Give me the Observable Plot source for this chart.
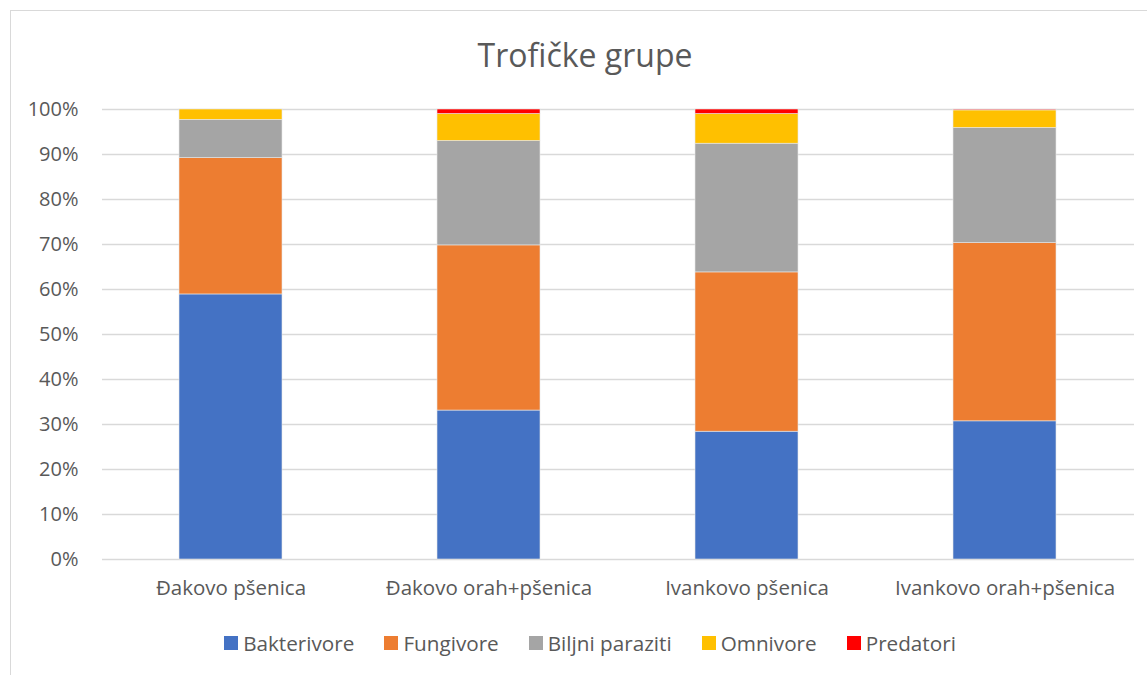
<!DOCTYPE html>
<html>
<head>
<meta charset="utf-8">
<script src="https://cdn.jsdelivr.net/npm/d3@7"></script>
<script src="https://cdn.jsdelivr.net/npm/@observablehq/plot@0.6"></script>
<style>
  html, body { margin: 0; padding: 0; background: #fff; }
  body { width: 1147px; height: 675px; position: relative; overflow: hidden; font-family: "Open Sans", sans-serif; }
  #frame { position: absolute; left: 10px; top: 10px; width: 1200px; height: 700px; border-left: 1px solid #d9d9d9; border-top: 1px solid #d9d9d9; }
  #title { position: absolute; left: 0; top: 0; width: 1170px; height: 95px; text-align: center; font-size: 32px; color: #595959; line-height: 110px; }
  #chart { position: absolute; left: 0; top: 95px; }
  #legend { position: absolute; left: 0; top: 615px; width: 1180px; height: 56px; display: flex; justify-content: center; align-items: center; gap: 30px; font-size: 20.7px; color: #595959; }
  .item { display: flex; align-items: center; gap: 5px; }
  .sw { width: 14px; height: 14px; display: inline-block; }
</style>
</head>
<body>
<div id="frame"></div>
<div id="title">Trofičke grupe</div>
<div id="chart"></div>
<div id="legend"></div>
<script>
const categories = ["Đakovo pšenica", "Đakovo orah+pšenica", "Ivankovo pšenica", "Ivankovo orah+pšenica"];
const series = ["Bakterivore", "Fungivore", "Biljni paraziti", "Omnivore", "Predatori"];
const colors = ["#4472C4", "#ED7D31", "#A5A5A5", "#FFC000", "#FF0000"];
const bakterivore = [58.9, 33.1, 28.4, 30.7];
const fungivore = [30.3, 36.7, 35.4, 39.6];
const biljniParaziti = [8.5, 23.2, 28.6, 25.6];
const omnivore = [2.3, 6.0, 6.6, 3.9];
const predatori = [0.0, 1.0, 1.0, 0.2];
const yTicks = [0, 10, 20, 30, 40, 50, 60, 70, 80, 90, 100];

const valuesBySeries = [bakterivore, fungivore, biljniParaziti, omnivore, predatori];
const data = [];
series.forEach((s, i) => categories.forEach((c, j) => data.push({category: c, series: s, value: valuesBySeries[i][j]})));

const plot = Plot.plot({
  width: 1147,
  height: 520,
  marginLeft: 102,
  marginRight: 13,
  marginTop: 14,
  marginBottom: 56,
  style: {fontFamily: "Open Sans, sans-serif", fontSize: "20px", color: "#595959", background: "transparent"},
  x: {domain: categories, paddingInner: 0.6, paddingOuter: 0.3, label: null, tickSize: 0},
  y: {domain: [0, 100], ticks: yTicks, tickFormat: d => d + "%", label: null, tickSize: 0},
  color: {domain: series, range: colors},
  marks: [
    Plot.ruleY(yTicks, {stroke: "#d9d9d9", strokeWidth: 1.3}),
    Plot.barY(data, {x: "category", y: "value", fill: "series", order: series, stroke: "#e8e8e8", strokeWidth: 0.6}),
    Plot.axisY({ticks: yTicks, tickFormat: d => d + "%", tickSize: 0, tickPadding: 24, label: null, fill: "#595959"}),
    Plot.axisX({tickSize: 0, tickPadding: 21, label: null, fill: "#595959", fontSize: 20.5})
  ]
});
document.getElementById("chart").appendChild(plot);

const legend = document.getElementById("legend");
series.forEach((s, i) => {
  const item = document.createElement("div");
  item.className = "item";
  item.innerHTML = `<span class="sw" style="background:${colors[i]}"></span><span>${s}</span>`;
  legend.appendChild(item);
});
</script>
</body>
</html>
